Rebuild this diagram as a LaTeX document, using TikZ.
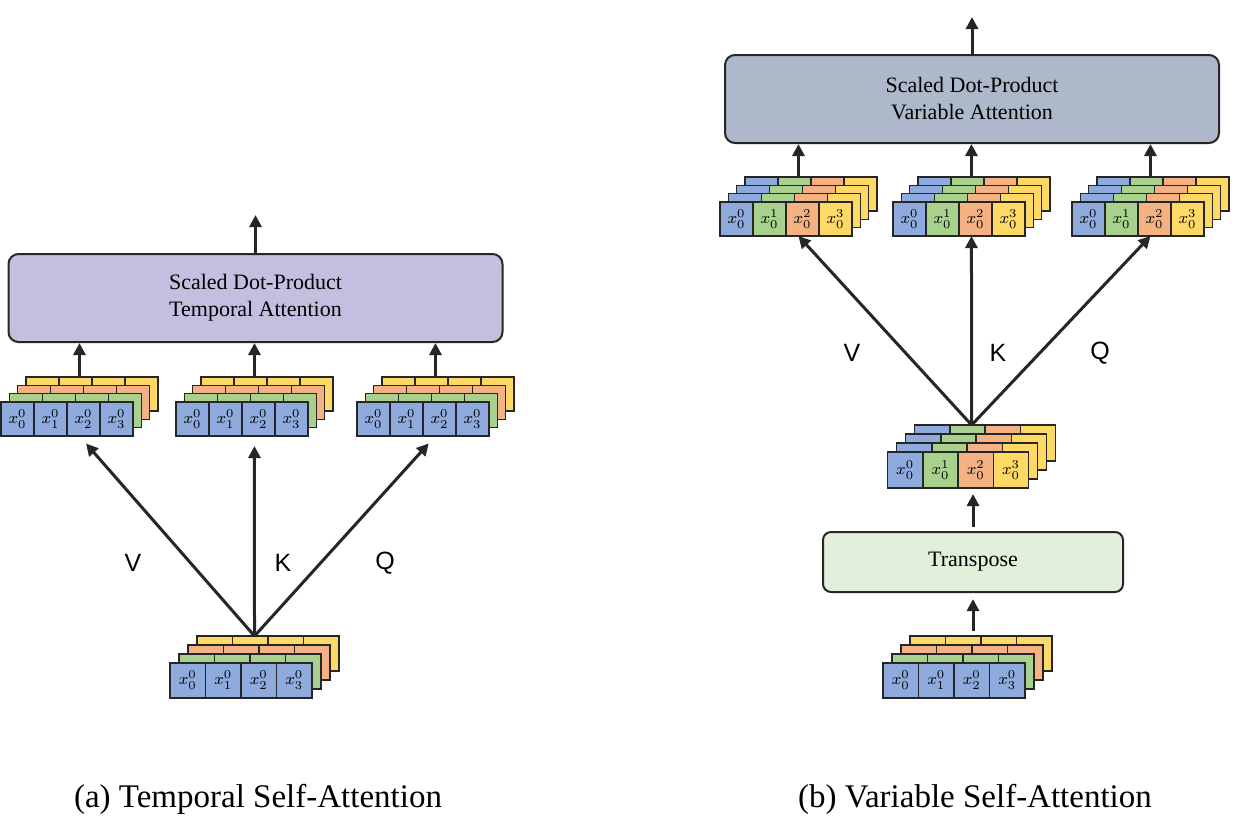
\documentclass[tikz,border=0pt]{standalone}
\usepackage{fontspec}
\setmainfont{Liberation Serif}
\newfontfamily\qkvfont{Liberation Sans}
\definecolor{cellblue}{RGB}{143, 170, 220}
\definecolor{cellgreen}{RGB}{169, 209, 142}
\definecolor{cellorange}{RGB}{244, 177, 131}
\definecolor{cellyellow}{RGB}{255, 217, 102}
\definecolor{attpurple}{RGB}{197, 191, 223}
\definecolor{attgray}{RGB}{173, 185, 202}
\definecolor{transgreen}{RGB}{226, 239, 218}
\definecolor{edgegray}{RGB}{38, 38, 38}
\usetikzlibrary{arrows.meta, positioning}

% rows per time step: name, left, top, cell width, cell height, depth shift
\newcommand{\timestack}[6]{
  \foreach \lay/\col in {3/cellyellow, 2/cellorange, 1/cellgreen} {
    \foreach \i in {0,...,3} {
      \draw[cell, fill=\col] ({#2+\i*#4+\lay*#6}, {#3-\lay*#6}) rectangle ++(#4, #5);
    }
  }
  \foreach \i in {0,...,3} {
    \draw[cell, fill=cellblue] ({#2+\i*#4}, #3) rectangle ++(#4, #5);
    \node[cellnum] (#1-\i) at ({#2+(\i+0.5)*#4}, {#3+0.5*#5}) {$x_{\i}^{0}$};
  }
  \coordinate (#1-n) at ({#2+2*#4+1.5*#6}, {#3-3*#6});
  \coordinate (#1-s) at ({#2+2*#4+1.5*#6}, {#3+#5});
}

% columns per variable: same arguments
\newcommand{\varstack}[6]{
  \foreach \lay in {3, 2, 1, 0} {
    \foreach \i/\col in {0/cellblue, 1/cellgreen, 2/cellorange, 3/cellyellow} {
      \draw[cell, fill=\col] ({#2+\i*#4+\lay*#6}, {#3-\lay*#6}) rectangle ++(#4, #5);
    }
  }
  \foreach \i in {0,...,3} {
    \node[cellnum] (#1-\i) at ({#2+(\i+0.5)*#4}, {#3+0.5*#5}) {$x_{0}^{\i}$};
  }
  \coordinate (#1-n) at ({#2+2*#4+1.5*#6}, {#3-3*#6});
  \coordinate (#1-s) at ({#2+2*#4+1.5*#6}, {#3+#5});
}

\begin{document}
\begin{tikzpicture}[x=0.5pt, y=-0.5pt,
  cell/.style={draw=edgegray, line width=0.75pt},
  cellnum/.style={font=\fontsize{8.5}{9}\selectfont, inner sep=0pt},
  attbox/.style={draw=edgegray, line width=1pt, rounded corners=5pt, align=center,
    font=\fontsize{11}{13.5}\selectfont, minimum width=247pt, minimum height=44pt},
  arr/.style={-{Triangle[length=6pt, width=6pt]}, line width=1.5pt, draw=edgegray},
  qkv/.style={font=\qkvfont\fontsize{12.5}{14}\selectfont},
  caption/.style={font=\fontsize{16.5}{19}\selectfont}]
  \useasboundingbox (0,0) rectangle (1234,837);

  % (a) Temporal self-attention
  \timestack{sa0}{170}{663}{35.5}{35}{9}
  \timestack{sa1}{1}{402}{33}{34}{8.3}
  \timestack{sa2}{176}{402}{33}{34}{8.3}
  \timestack{sa3}{357}{402}{33}{34}{8.3}
  \node[attbox, fill=attpurple] (attA) at (255.5, 298) {Scaled Dot-Product\\Temporal Attention};
  \coordinate (outA) at (255.5, 215);
  \draw[arr] (attA.north) -- (outA);
  \foreach \s in {sa1, sa2, sa3} {
    \draw[arr] (\s-n) -- (\s-n |- attA.south);
  }
  \draw[arr, shorten >=5pt] (sa0-n) -- (sa1-s);
  \draw[arr, shorten >=5pt] (sa0-n) -- (sa2-s);
  \draw[arr, shorten >=5pt] (sa0-n) -- (sa3-s);
  \node[qkv] (vA) at (133, 563) {V};
  \node[qkv] (kA) at (283, 563) {K};
  \node[qkv] (qA) at (385, 563) {Q};
  \node[caption] (capA) at (258, 799) {(a) Temporal Self-Attention};

  % (b) Variable self-attention
  \timestack{sb0}{883}{663}{35.5}{35}{9}
  \node[attbox, fill=transgreen, rounded corners=4pt, minimum width=150pt, minimum height=30pt]
    (transB) at (973, 562) {Transpose};
  \varstack{sbm}{887.5}{452}{35.3}{36}{9}
  \varstack{sb1}{720}{202}{33}{34}{8.3}
  \varstack{sb2}{893}{202}{33}{34}{8.3}
  \varstack{sb3}{1072}{202}{33}{34}{8.3}
  \node[attbox, fill=attgray] (attB) at (972, 99) {Scaled Dot-Product\\Variable Attention};
  \coordinate (outB) at (972, 17);
  \draw[arr] (attB.north) -- (outB);
  \foreach \s in {sb1, sb2, sb3} {
    \draw[arr] (\s-n) -- (\s-n |- attB.south);
  }
  \draw[arr, shorten <=2.5pt, shorten >=3pt] (transB.south |- sb0-n) -- (transB.south);
  \draw[arr, shorten <=2pt, shorten >=3pt] (transB.north) -- (transB.north |- sbm-s);
  \draw[arr] (sbm-n) -- (sb1-s);
  \draw[arr] (sbm-n) -- (sb2-s);
  \draw[arr] (sbm-n) -- (sb3-s);
  \node[qkv] (vB) at (852, 353) {V};
  \node[qkv] (kB) at (998, 353) {K};
  \node[qkv] (qB) at (1100, 353) {Q};
  \node[caption] (capB) at (975, 799) {(b) Variable Self-Attention};
\end{tikzpicture}
\end{document}
